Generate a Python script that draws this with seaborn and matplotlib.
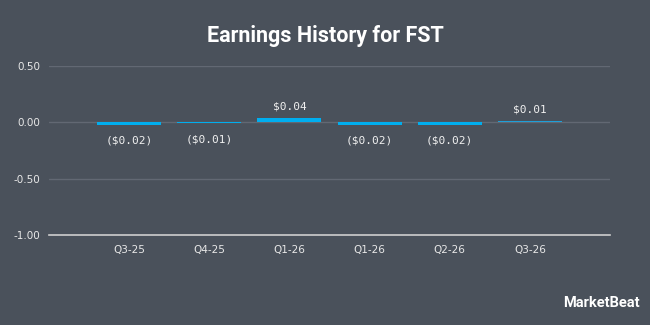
import matplotlib
matplotlib.use("Agg")
import matplotlib.pyplot as plt
import seaborn as sns
import pandas as pd

quarters = ["Q3-25", "Q4-25", "Q1-26", "Q1-26 ", "Q2-26", "Q3-26"]
tick_labels = ["Q3-25", "Q4-25", "Q1-26", "Q1-26", "Q2-26", "Q3-26"]
eps = [-0.02, -0.01, 0.04, -0.02, -0.02, 0.01]
value_labels = ["($0.02)", "($0.01)", "$0.04", "($0.02)", "($0.02)", "$0.01"]
bar_colors = ["#00aeef", "#00aeef", "#00aeef", "#00aeef", "#00aeef", "#1e9fd8"]
y_ticks = [-1.0, -0.5, 0.0, 0.5]

bg = "#4a515b"
sns.set_theme(style="dark")
plt.rcParams["font.family"] = ["DejaVu Sans"]

fig = plt.figure(figsize=(6.5, 3.25), dpi=100, facecolor=bg)
ax = fig.add_axes([49 / 650, (325 - 235) / 325, (610 - 49) / 650, (235 - 66) / 325])
ax.set_facecolor(bg)

for y in y_ticks[1:]:
    ax.axhline(y, color="#626873", lw=1, zorder=0)

df = pd.DataFrame({"q": quarters, "v": eps})
sns.barplot(data=df, x="q", y="v", hue="q", palette=bar_colors, legend=False,
            width=0.8, ax=ax, saturation=1, linewidth=0, edgecolor="none", zorder=3)

ax.set_xlim(-1, len(quarters))
ax.set_ylim(-1.0, 0.5)
ax.set_yticks(y_ticks)
ax.set_yticklabels([f"{t:.2f}" for t in y_ticks])
ax.set_xticks(range(len(quarters)))
ax.set_xticklabels(tick_labels)
ax.set_xlabel("")
ax.set_ylabel("")
ax.tick_params(axis="both", colors="#e8e8e8", labelsize=7.5, length=0)
ax.tick_params(axis="x", pad=7)
ax.tick_params(axis="y", pad=6)

for s in ["top", "right", "left"]:
    ax.spines[s].set_visible(False)
ax.spines["bottom"].set_color("#cfcfcf")
ax.spines["bottom"].set_linewidth(1.2)
ax.grid(False)

for i, (v, lab) in enumerate(zip(eps, value_labels)):
    if v >= 0:
        ax.text(i, v + 0.1, lab, ha="center", va="center", color="#f0f0f0",
                fontsize=8, family="DejaVu Sans Mono")
    else:
        ax.text(i, v - 0.145, lab, ha="center", va="center", color="#f0f0f0",
                fontsize=8, family="DejaVu Sans Mono")

fig.text(0.5, 1 - 36 / 325, "Earnings History for FST", ha="center", va="center",
         color="white", fontsize=15.5, fontweight="bold", family="Roboto")
fig.text(0.985, 1 - 303 / 325, "MarketBeat", ha="right", va="center",
         color="white", fontsize=10.5, fontweight="bold", family="Roboto")

fig.savefig("out.png", dpi=100, facecolor=bg)
